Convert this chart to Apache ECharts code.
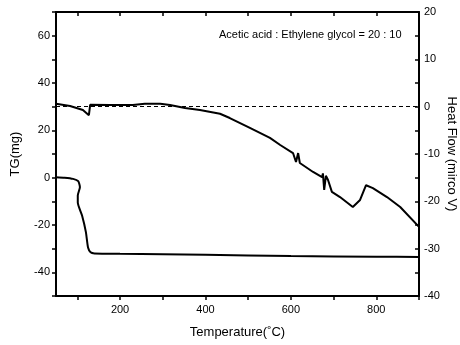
<!DOCTYPE html>
<html>
<head>
<meta charset="utf-8">
<script src="https://cdn.jsdelivr.net/npm/echarts@6/dist/echarts.min.js"></script>
<style>
  html, body { margin: 0; padding: 0; background: #fff; }
  #chart { width: 460px; height: 345px; }
</style>
</head>
<body>
<div id="chart"></div>
<script>
// TG curve, [temperature, mg]
var tgData = [
  [50, 0.2], [70, 0], [90, -0.5], [102, -1.5], [106, -4], [101, -7.5],
  [101, -10.5], [111, -16], [120, -23], [125, -29.5], [131, -31.5],
  [140, -32], [200, -32.2], [400, -32.6], [600, -33.1], [800, -33.4], [900, -33.5]
];
// heat flow curve, [temperature, micro V]
var hfData = [
  [50, 0.6], [83, 0.15], [113, -0.7], [127, -1.8], [130, 0.4], [176, 0.35],
  [230, 0.35], [258, 0.6], [294, 0.6], [317, 0.35], [352, -0.3], [387, -0.7],
  [434, -1.5], [457, -2.4], [504, -4.5], [551, -6.6], [575, -8.1], [605, -9.8],
  [612, -11.7], [617, -9.8], [621, -11.9], [652, -13.8], [673, -14.9],
  [675, -14.1], [678, -17.6], [682, -14.6], [687, -15.5], [696, -18.0],
  [715, -19.1], [745, -21.2], [762, -19.7], [776, -16.6], [792, -17.2],
  [825, -19.1], [856, -21.2], [900, -25.4]
];
var xTicks = [100, 200, 300, 400, 500, 600, 700, 800, 900];
var xLabels = [200, 400, 600, 800];
var tgTicks = [-50, -40, -30, -20, -10, 0, 10, 20, 30, 40, 50, 60, 70];
var tgLabels = [-40, -20, 0, 20, 40, 60];
var hfLabels = [-40, -30, -20, -10, 0, 10, 20];
var noteText = 'Acetic acid : Ethylene glycol = 20 : 10';

var font = 'Liberation Sans, Arial, sans-serif';
var chart = echarts.init(document.getElementById('chart'));
var option = {
  backgroundColor: '#fff',
  animation: false,
  grid: { left: 56, right: 41, top: 12, bottom: 49, containLabel: false, outerBoundsMode: 'none' },
  xAxis: [
    {
      type: 'value', min: 50, max: 900,
      name: 'Temperature(\u02DAC)', nameLocation: 'middle', nameGap: 30,
      nameTextStyle: { fontFamily: font, fontSize: 13, color: '#000' },
      axisLine: { onZero: false, lineStyle: { color: '#000', width: 2 } },
      axisTick: { show: true, inside: false, length: 4, customValues: xTicks, lineStyle: { color: '#000', width: 1.5 } },
      axisLabel: { customValues: xLabels, fontFamily: font, fontSize: 11, color: '#000', margin: 8 },
      splitLine: { show: false }
    },
    {
      type: 'value', min: 50, max: 900, position: 'top',
      axisLine: { onZero: false, lineStyle: { color: '#000', width: 2 } },
      axisTick: { show: true, inside: true, length: 4, customValues: xTicks, lineStyle: { color: '#000', width: 1.5 } },
      axisLabel: { show: false },
      splitLine: { show: false }
    }
  ],
  yAxis: [
    {
      type: 'value', min: -50, max: 70,
      name: 'TG(mg)', nameLocation: 'middle', nameGap: 34, nameRotate: 90,
      nameTextStyle: { fontFamily: font, fontSize: 13, color: '#000' },
      axisLine: { show: true, onZero: false, lineStyle: { color: '#000', width: 2 } },
      axisTick: { show: true, inside: false, length: 4, customValues: tgTicks, lineStyle: { color: '#000', width: 1.5 } },
      axisLabel: { customValues: tgLabels, fontFamily: font, fontSize: 11, color: '#000', margin: 6 },
      splitLine: { show: false }
    },
    {
      type: 'value', min: -40, max: 20, interval: 5, position: 'right',
      name: 'Heat Flow (mirco V)', nameLocation: 'middle', nameGap: 26, nameRotate: -90,
      nameTextStyle: { fontFamily: font, fontSize: 13, color: '#000', padding: [0, 0, 0, 0] },
      nameMoveOverlap: false,
      axisLine: { show: true, onZero: false, lineStyle: { color: '#000', width: 2 } },
      axisTick: { show: true, inside: true, length: 4, lineStyle: { color: '#000', width: 1.5 } },
      axisLabel: {
        fontFamily: font, fontSize: 11, color: '#000', margin: 5,
        formatter: function (v) { return hfLabels.indexOf(v) >= 0 ? String(v) : ''; }
      },
      splitLine: { show: false }
    }
  ],
  graphic: [
    {
      type: 'text', left: 219, top: 29,
      style: { text: noteText, font: '11px ' + font, fill: '#000' }
    }
  ],
  series: [
    {
      name: 'TG', type: 'line', xAxisIndex: 0, yAxisIndex: 0,
      data: tgData, showSymbol: false, smooth: 0.2,
      lineStyle: { color: '#000', width: 2 }
    },
    {
      name: 'Heat Flow', type: 'line', xAxisIndex: 0, yAxisIndex: 1,
      data: hfData, showSymbol: false,
      lineStyle: { color: '#000', width: 2 },
      markLine: {
        silent: true, symbol: 'none', label: { show: false },
        lineStyle: { color: '#000', type: [4, 3], width: 1.2 },
        data: [{ yAxis: 0 }]
      }
    }
  ]
};
chart.setOption(option);
</script>
</body>
</html>
